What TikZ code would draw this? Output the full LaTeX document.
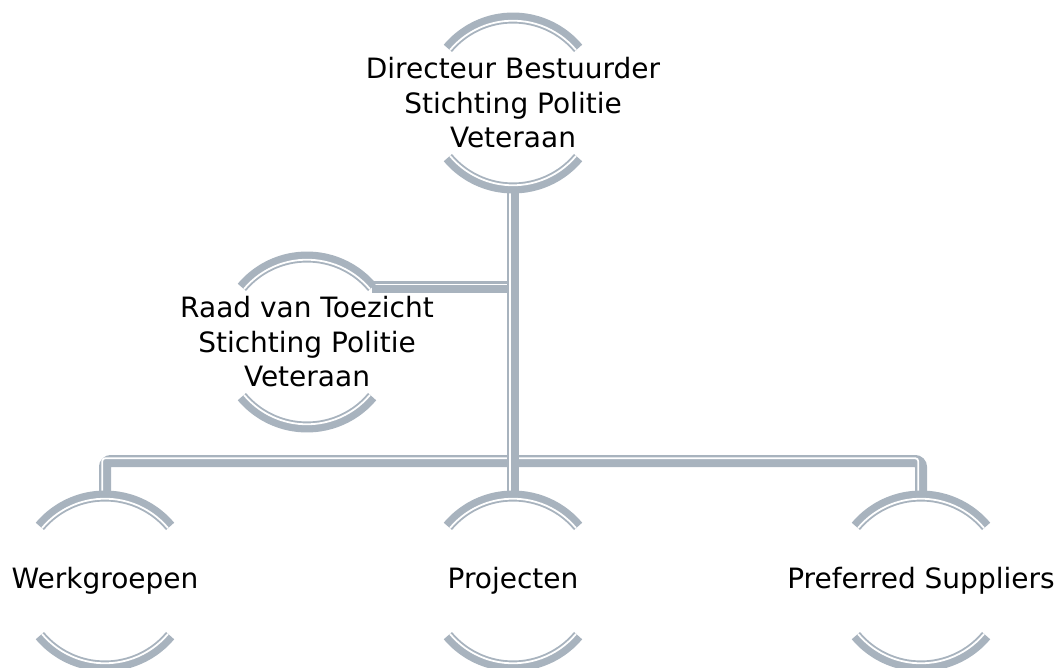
\documentclass[tikz,border=0pt]{standalone}
\usepackage{fontspec}
\setmainfont{DejaVu Sans}
\usetikzlibrary{calc}
\definecolor{ringgrey}{RGB}{168,179,190}
\begin{document}
\begin{tikzpicture}[x=1pt,y=-1pt,
  ring/.style={draw=ringgrey,line width=11pt},
  ringline/.style={draw=white,line width=1.8pt},
  link/.style={draw=ringgrey,line width=12pt},
  linkline/.style={draw=white,line width=1.8pt},
  lbl/.style={align=center,inner sep=0pt,font=\fontsize{28}{34.5}\selectfont}]
\useasboundingbox (0,0) rectangle (1061,668);

\node[lbl] (top) at (513,103) {Directeur Bestuurder\\Stichting Politie\\Veteraan};
\node[lbl] (raad) at (307,342) {Raad van Toezicht\\Stichting Politie\\Veteraan};
\node[lbl] (werk) at (105,581) {Werkgroepen};
\node[lbl] (proj) at (513,581) {Projecten};
\node[lbl] (pref) at (921,581) {Preferred Suppliers};

\coordinate (bus) at (513,461);
\coordinate (raadend) at ($(raad.center)+(40:85pt)$);

% bus to the lower row
\draw[link,rounded corners=6pt] ($(werk.center)+(0,-86)$) |- (bus) -| ($(pref.center)+(0,-86)$);
\draw[linkline,rounded corners=3pt] ($(werk.center)+(-2.8,-86)$) |- ($(bus)+(0,-2.8)$) -| ($(pref.center)+(-2.8,-86)$);

% raad van toezicht
\draw[link] (raadend) -- (raadend -| top.center);
\draw[linkline] ($(raadend)+(0,-2.8)$) -- ($(raadend -| top.center)+(0,-2.8)$);

% main line
\draw[link] ($(top.center)+(0,86)$) -- ($(proj.center)+(0,-86)$);
\draw[linkline] ($(top.center)+(-2.8,86)$) -- ($(proj.center)+(-2.8,-86)$);

% rings
\draw[ring] (top.center) ++(40:85pt) arc[start angle=40,end angle=140,radius=85pt] (top.center) ++(-40:85pt) arc[start angle=-40,end angle=-140,radius=85pt];
\draw[ring] (raad.center) ++(40:85pt) arc[start angle=40,end angle=140,radius=85pt] (raad.center) ++(-40:85pt) arc[start angle=-40,end angle=-140,radius=85pt];
\draw[ring] (werk.center) ++(40:85pt) arc[start angle=40,end angle=140,radius=85pt] (werk.center) ++(-40:85pt) arc[start angle=-40,end angle=-140,radius=85pt];
\draw[ring] (proj.center) ++(40:85pt) arc[start angle=40,end angle=140,radius=85pt] (proj.center) ++(-40:85pt) arc[start angle=-40,end angle=-140,radius=85pt];
\draw[ring] (pref.center) ++(40:85pt) arc[start angle=40,end angle=140,radius=85pt] (pref.center) ++(-40:85pt) arc[start angle=-40,end angle=-140,radius=85pt];

\draw[ringline] (top.center) ++(40:82.3pt) arc[start angle=40,end angle=140,radius=82.3pt] (top.center) ++(-40:82.3pt) arc[start angle=-40,end angle=-140,radius=82.3pt];
\draw[ringline] (raad.center) ++(40:82.3pt) arc[start angle=40,end angle=140,radius=82.3pt] (raad.center) ++(-40:82.3pt) arc[start angle=-40,end angle=-140,radius=82.3pt];
\draw[ringline] (werk.center) ++(40:82.3pt) arc[start angle=40,end angle=140,radius=82.3pt] (werk.center) ++(-40:82.3pt) arc[start angle=-40,end angle=-140,radius=82.3pt];
\draw[ringline] (proj.center) ++(40:82.3pt) arc[start angle=40,end angle=140,radius=82.3pt] (proj.center) ++(-40:82.3pt) arc[start angle=-40,end angle=-140,radius=82.3pt];
\draw[ringline] (pref.center) ++(40:82.3pt) arc[start angle=40,end angle=140,radius=82.3pt] (pref.center) ++(-40:82.3pt) arc[start angle=-40,end angle=-140,radius=82.3pt];
\end{tikzpicture}
\end{document}
